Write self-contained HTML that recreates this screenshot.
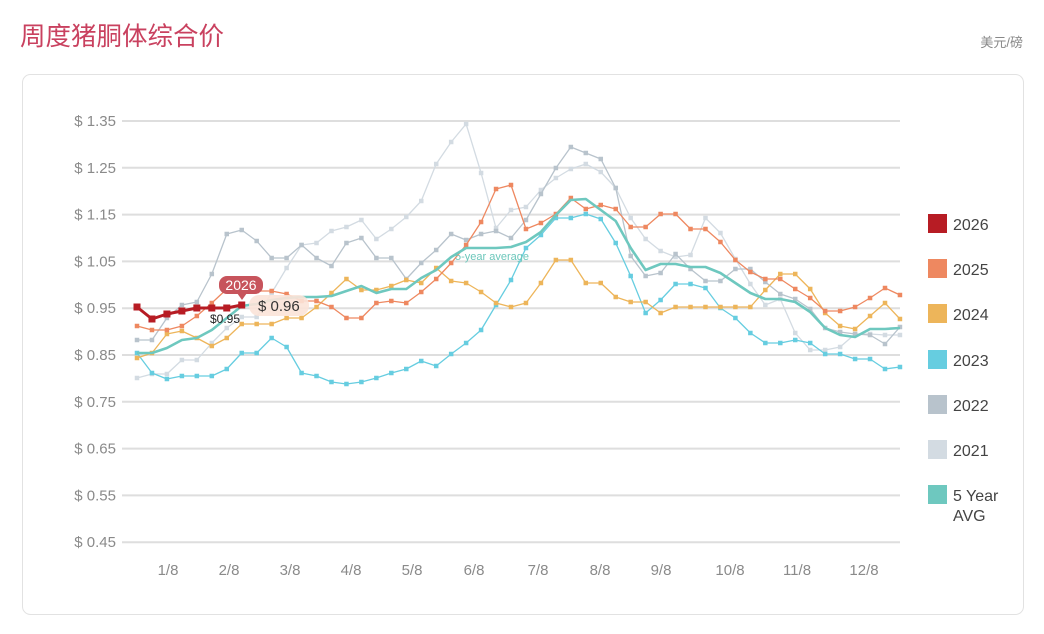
<!DOCTYPE html>
<html><head><meta charset="utf-8">
<style>
html,body{margin:0;padding:0;background:#fff;width:1044px;height:634px;overflow:hidden}
svg{display:block;font-family:"Liberation Sans","Noto Sans CJK SC",sans-serif}
</style></head><body>
<svg id="s" width="1044" height="634" xmlns="http://www.w3.org/2000/svg">
<text x="20" y="45" font-size="25.5" fill="#c9415f" font-family="Liberation Sans,Noto Sans CJK SC,sans-serif">周度猪胴体综合价</text>
<text x="1023" y="47" font-size="13" fill="#888" text-anchor="end">美元/磅</text>
<rect x="22.5" y="74.5" width="1001" height="540" rx="8" fill="#fff" stroke="#e2e2e2"/>
<g id="grid" stroke="#dedede" stroke-width="2"></g>
<g id="ylab" font-size="15" fill="#8a8a8a" text-anchor="end"></g>
<g font-size="15" fill="#8a8a8a" text-anchor="middle">
<text x="168" y="575">1/8</text><text x="229" y="575">2/8</text><text x="290" y="575">3/8</text><text x="351" y="575">4/8</text><text x="412" y="575">5/8</text><text x="474" y="575">6/8</text><text x="538" y="575">7/8</text><text x="600" y="575">8/8</text><text x="661" y="575">9/8</text><text x="730" y="575">10/8</text><text x="797" y="575">11/8</text><text x="864" y="575">12/8</text>
</g>
<g id="series"></g>
<text x="455" y="260" font-size="11" fill="#6cc7bb">5-year average</text>
<g font-size="16" fill="#444">
<rect x="928" y="214" width="19" height="19" fill="#b71c24"/><text x="953" y="230">2026</text>
<rect x="928" y="259" width="19" height="19" fill="#ee8860"/><text x="953" y="275">2025</text>
<rect x="928" y="304" width="19" height="19" fill="#edb55a"/><text x="953" y="320">2024</text>
<rect x="928" y="350" width="19" height="19" fill="#66cde0"/><text x="953" y="366">2023</text>
<rect x="928" y="395" width="19" height="19" fill="#b8c3cc"/><text x="953" y="411">2022</text>
<rect x="928" y="440" width="19" height="19" fill="#d3dbe2"/><text x="953" y="456">2021</text>
<rect x="928" y="485" width="19" height="19" fill="#6ec8bf"/><text x="953" y="501">5 Year</text><text x="953" y="521">AVG</text>
</g>
<g id="tip">
<rect x="219" y="276" width="44" height="18" rx="8" fill="#c7545c"/>
<path d="M237 293 L242 300 L247 293 Z" fill="#c7545c"/>
<text x="241" y="290" font-size="14" fill="#fff" text-anchor="middle">2026</text>
<rect x="249" y="295" width="60" height="21" rx="10" fill="#fbe3d8" opacity="0.9"/>
<text x="258" y="311" font-size="15" fill="#333">$ 0.96</text>
<text x="210" y="323" font-size="12" fill="#222">$0.95</text>
</g>
</svg>
<script>
var NS="http://www.w3.org/2000/svg";
function el(t,a,p){var e=document.createElementNS(NS,t);for(var k in a)e.setAttribute(k,a[k]);p.appendChild(e);return e;}
var g=document.getElementById('grid'),yl=document.getElementById('ylab');
var labs=["1.35","1.25","1.15","1.05","0.95","0.85","0.75","0.65","0.55","0.45"];
for(var i=0;i<10;i++){var y=121+i*46.8;el('line',{x1:122,x2:900,y1:y,y2:y},g);var t=el('text',{x:116,y:y+5},yl);t.textContent="$ "+labs[i];}
function X(i){return 137+i*14.96;}
var S=document.getElementById('series');
function draw(ys,col,w,ms){var pts=ys.map(function(y,i){return X(i).toFixed(1)+","+y;}).join(" ");
el('polyline',{points:pts,fill:"none",stroke:col,"stroke-width":w,"stroke-linejoin":"round"},S);
if(ms)ys.forEach(function(y,i){el('rect',{x:X(i)-ms/2,y:y-ms/2,width:ms,height:ms,fill:col},S);});}
var y2021=[378,374,374,360,360,343,328,317,317,293,268,245,243,231,227,220,239,229,217,201,164,142,124,173,228,210,207,190,178,169,164,172,188,218,239,251,257,255,218,233,259,284,305,299,333,350,350,347,334,334,335,335];
var y2022=[340,340,318,305,302,274,234,230,241,258,258,245,258,266,243,238,258,258,279,263,250,234,240,234,231,238,220,194,168,147,153,159,188,256,276,273,254,269,281,281,269,269,282,294,299,309,328,332,334,335,344,327];
var y2023=[353,373,379,376,376,376,369,353,353,338,347,373,376,382,384,382,378,373,369,361,366,354,343,330,305,280,248,235,218,218,214,219,243,276,313,300,284,284,288,308,318,333,343,343,340,343,354,354,359,359,369,367];
var y2024=[358,353,334,331,338,346,338,324,324,324,318,318,307,293,279,290,290,286,280,283,268,281,283,292,303,307,303,283,260,260,283,283,297,302,302,313,307,307,307,307,307,307,290,274,274,289,313,326,329,316,303,319];
var y2025=[326,330,330,326,316,303,289,290,291,291,294,301,301,307,318,318,303,301,303,292,279,263,245,222,189,185,229,223,214,198,209,205,209,227,227,214,214,229,229,242,260,272,279,279,289,298,311,311,307,298,288,295];
var avg=[353,353,348,340,338,330,318,306,304,300,298,297,297,296,291,286,293,289,289,278,270,257,248,248,248,247,242,232,215,200,199,210,221,248,270,264,264,267,267,273,283,293,299,299,302,312,328,335,337,329,329,328];
draw(y2021,"#d3dbe2",1.3,4.5);
draw(y2022,"#b8c3cc",1.3,4.5);
draw(y2023,"#66cde0",1.3,4.5);
draw(y2024,"#edb55a",1.3,4.5);
draw(y2025,"#ee8860",1.3,4.5);
draw(avg,"#6ec8bf",2.6,0);
draw([307,319,314,311,308,308,308,305],"#b71c24",3,7);
S.parentNode.appendChild(document.getElementById('tip'));
</script>
</body></html>
